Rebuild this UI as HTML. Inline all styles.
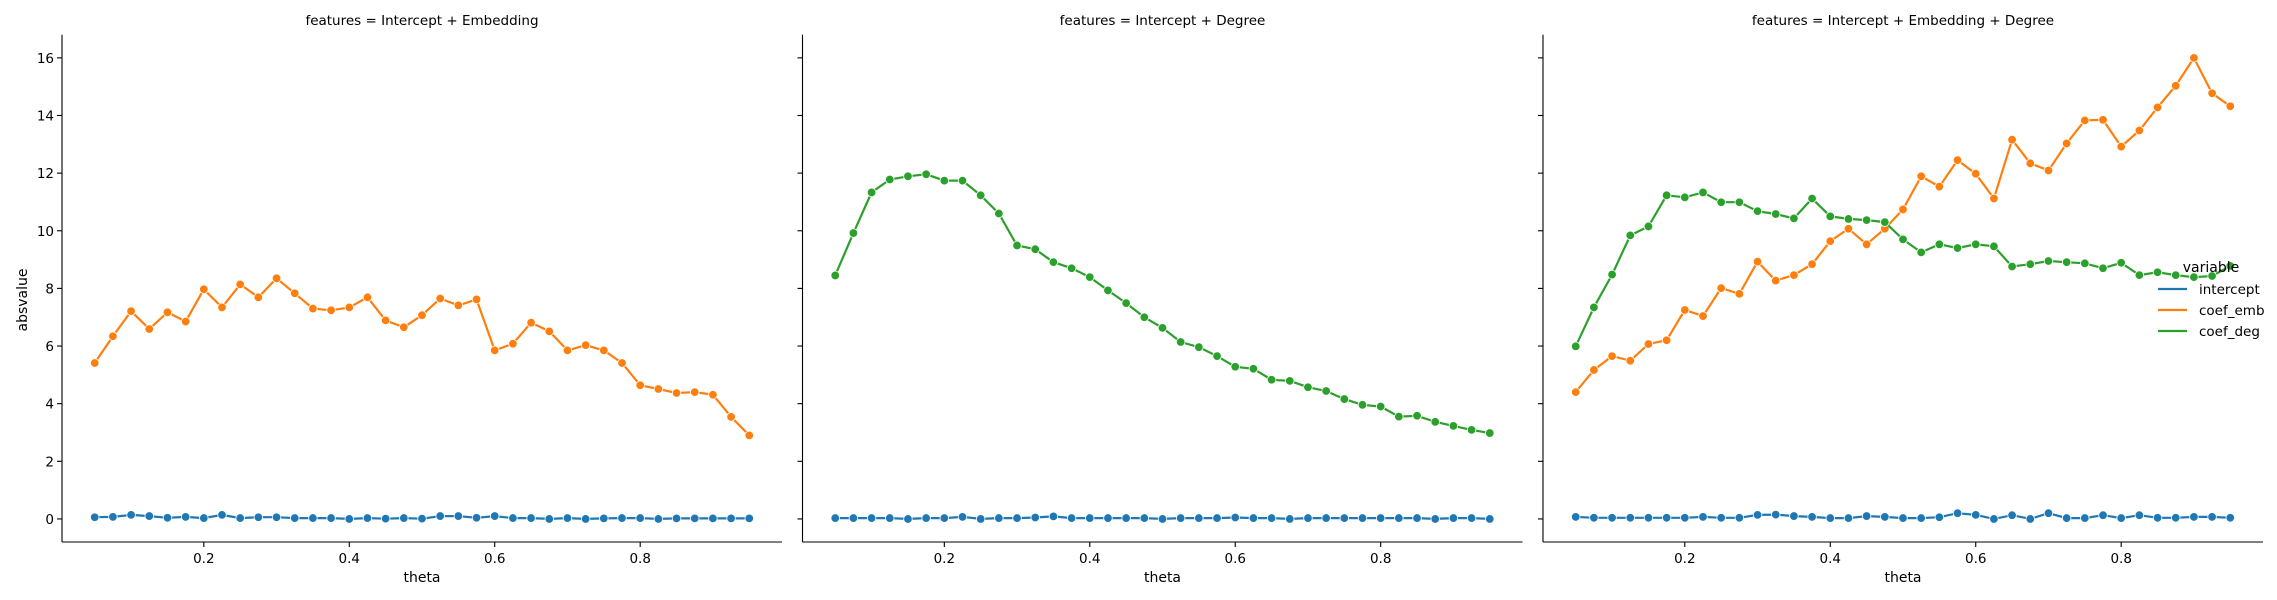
<!DOCTYPE html>
<html><head><meta charset="utf-8"><style>
html,body{margin:0;padding:0;background:#fff;}
svg{display:block;font-family:"DejaVu Sans","Liberation Sans",sans-serif;}
</style></head><body>
<svg id="chart" width="2277" height="600" viewBox="0 0 2277 600" xmlns="http://www.w3.org/2000/svg"></svg>
<script>
const thetaValues = [0.05,0.075,0.1,0.125,0.15,0.175,0.2,0.225,0.25,0.275,0.3,0.325,0.35,0.375,0.4,0.425,0.45,0.475,0.5,0.525,0.55,0.575,0.6,0.625,0.65,0.675,0.7,0.725,0.75,0.775,0.8,0.825,0.85,0.875,0.9,0.925,0.95];
const panelTitles = ["features = Intercept + Embedding","features = Intercept + Degree","features = Intercept + Embedding + Degree"];
const xTicks = [0.2,0.4,0.6,0.8];
const yTicks = [0,2,4,6,8,10,12,14,16];
const p1Intercept = [0.06,0.07,0.14,0.1,0.04,0.07,0.03,0.14,0.03,0.06,0.06,0.03,0.03,0.03,0.0,0.03,0.01,0.03,0.01,0.1,0.1,0.04,0.1,0.03,0.03,0.0,0.03,0.0,0.02,0.03,0.03,0.0,0.02,0.02,0.02,0.02,0.02];
const p1Emb = [5.41,6.34,7.21,6.59,7.17,6.85,7.97,7.34,8.14,7.69,8.35,7.83,7.30,7.24,7.34,7.69,6.89,6.65,7.07,7.65,7.41,7.62,5.85,6.08,6.81,6.51,5.85,6.03,5.85,5.41,4.64,4.51,4.37,4.40,4.31,3.54,2.90];
const p2Intercept = [0.03,0.03,0.03,0.03,0.0,0.03,0.03,0.07,0.0,0.03,0.03,0.05,0.09,0.03,0.03,0.03,0.03,0.03,0.0,0.03,0.03,0.03,0.05,0.03,0.03,0.0,0.03,0.03,0.03,0.03,0.03,0.03,0.03,0.0,0.03,0.03,0.0];
const p2Deg = [8.45,9.92,11.33,11.78,11.89,11.96,11.74,11.74,11.23,10.60,9.49,9.36,8.91,8.70,8.39,7.93,7.49,7.00,6.63,6.14,5.96,5.65,5.28,5.21,4.83,4.79,4.57,4.44,4.16,3.96,3.90,3.55,3.58,3.37,3.23,3.09,2.98];
const p3Intercept = [0.07,0.04,0.04,0.04,0.04,0.04,0.04,0.07,0.04,0.04,0.14,0.15,0.1,0.07,0.03,0.03,0.1,0.07,0.03,0.03,0.06,0.2,0.14,0.0,0.13,0.0,0.2,0.03,0.03,0.13,0.03,0.13,0.04,0.04,0.07,0.07,0.04];
const p3Emb = [4.40,5.17,5.65,5.49,6.07,6.20,7.25,7.04,8.01,7.81,8.93,8.27,8.46,8.84,9.64,10.07,9.53,10.07,10.74,11.89,11.53,12.45,11.98,11.12,13.16,12.34,12.09,13.03,13.83,13.85,12.92,13.48,14.28,15.03,16.0,14.77,14.32];
const p3Deg = [5.99,7.34,8.48,9.84,10.15,11.23,11.16,11.33,10.99,10.99,10.68,10.58,10.43,11.12,10.50,10.41,10.37,10.30,9.70,9.25,9.53,9.40,9.53,9.46,8.76,8.84,8.95,8.91,8.87,8.70,8.89,8.46,8.56,8.46,8.39,8.43,8.78];
const seriesNames = ["intercept","coef_emb","coef_deg"];
const seriesColors = ["#1f77b4","#ff7f0e","#2ca02c"];

const NS="http://www.w3.org/2000/svg";
const svg=document.getElementById('chart');
function mk(tag,attrs,parent){const e=document.createElementNS(NS,tag);for(const k in attrs)e.setAttribute(k,attrs[k]);(parent||svg).appendChild(e);return e;}
const panelLefts=[62,802.5,1543], panelW=720, yTop=34.8, yBot=542;
const xMin=0.005,xMax=0.995,yMin=-0.8,yMax=16.8;
function yScale(v){return yBot-(v-yMin)/(yMax-yMin)*(yBot-yTop);}
const panels=[
 {series:[[0,p1Intercept],[1,p1Emb]]},
 {series:[[0,p2Intercept],[2,p2Deg]]},
 {series:[[0,p3Intercept],[1,p3Emb],[2,p3Deg]]}
];
panels.forEach((p,pi)=>{
  const L=panelLefts[pi];
  const xScale=v=>L+(v-xMin)/(xMax-xMin)*panelW;
  const g=mk('g',{});
  
  
  const t=mk('text',{x:L+panelW/2,y:25,'text-anchor':'middle','font-size':'13.5'},g);
  t.textContent=panelTitles[pi];
  
  
  // axes
  const ya=mk('line',{x1:L,y1:yTop,x2:L,y2:yBot,stroke:'#000','stroke-width':1.1},g);
  
  
  const xa=mk('line',{x1:L,y1:yBot,x2:L+panelW,y2:yBot,stroke:'#000','stroke-width':1.1},g);
  
  
  yTicks.forEach(v=>{
    const y=yScale(v);
    const tk=mk('line',{x1:L-5,y1:y,x2:L,y2:y,stroke:'#000','stroke-width':1.1},g);
    
    
    if(pi===0){
      const tl=mk('text',{x:L-8,y:y+5,'text-anchor':'end','font-size':'13.5'},g);
      tl.textContent=v;
      
      
    }
  });
  xTicks.forEach(v=>{
    const x=xScale(v);
    const tk=mk('line',{x1:x,y1:yBot,x2:x,y2:yBot+5,stroke:'#000','stroke-width':1.1},g);
    
    
    const tl=mk('text',{x:x,y:yBot+21,'text-anchor':'middle','font-size':'13.5'},g);
    tl.textContent=v.toFixed(1);
    
    
  });
  const xl=mk('text',{x:L+panelW/2,y:582,'text-anchor':'middle','font-size':'14'},g);
  xl.textContent='theta';
  
  
  p.series.forEach(([si,vals])=>{
    const sg=mk('g',{},g);
    
    
    const pts=vals.map((v,i)=>xScale(thetaValues[i]).toFixed(1)+','+yScale(v).toFixed(1)).join(' ');
    const pl=mk('polyline',{points:pts,fill:'none',stroke:seriesColors[si],'stroke-width':2.2},sg);
    
    
    vals.forEach((v,i)=>{
      const c=mk('circle',{cx:xScale(thetaValues[i]),cy:yScale(v),r:4.3,fill:seriesColors[si],stroke:'#fff','stroke-width':0.8},sg);
      
      
    });
  });
});
const yl=mk('text',{x:0,y:0,'text-anchor':'middle','font-size':'14',transform:'translate(27,300) rotate(-90)'});
yl.textContent='absvalue';


// legend
const lg=mk('g',{});


const lt=mk('text',{x:2211,y:272,'text-anchor':'middle','font-size':'14'},lg);
lt.textContent='variable';


seriesNames.forEach((n,i)=>{
  const y=289+i*21;
  const e=mk('g',{},lg);
  
  
  mk('line',{x1:2158,y1:y,x2:2187,y2:y,stroke:seriesColors[i],'stroke-width':2.2},e);
  const tx=mk('text',{x:2199,y:y+5,'font-size':'13.5'},e);
  tx.textContent=n;
});
</script>
</body></html>
